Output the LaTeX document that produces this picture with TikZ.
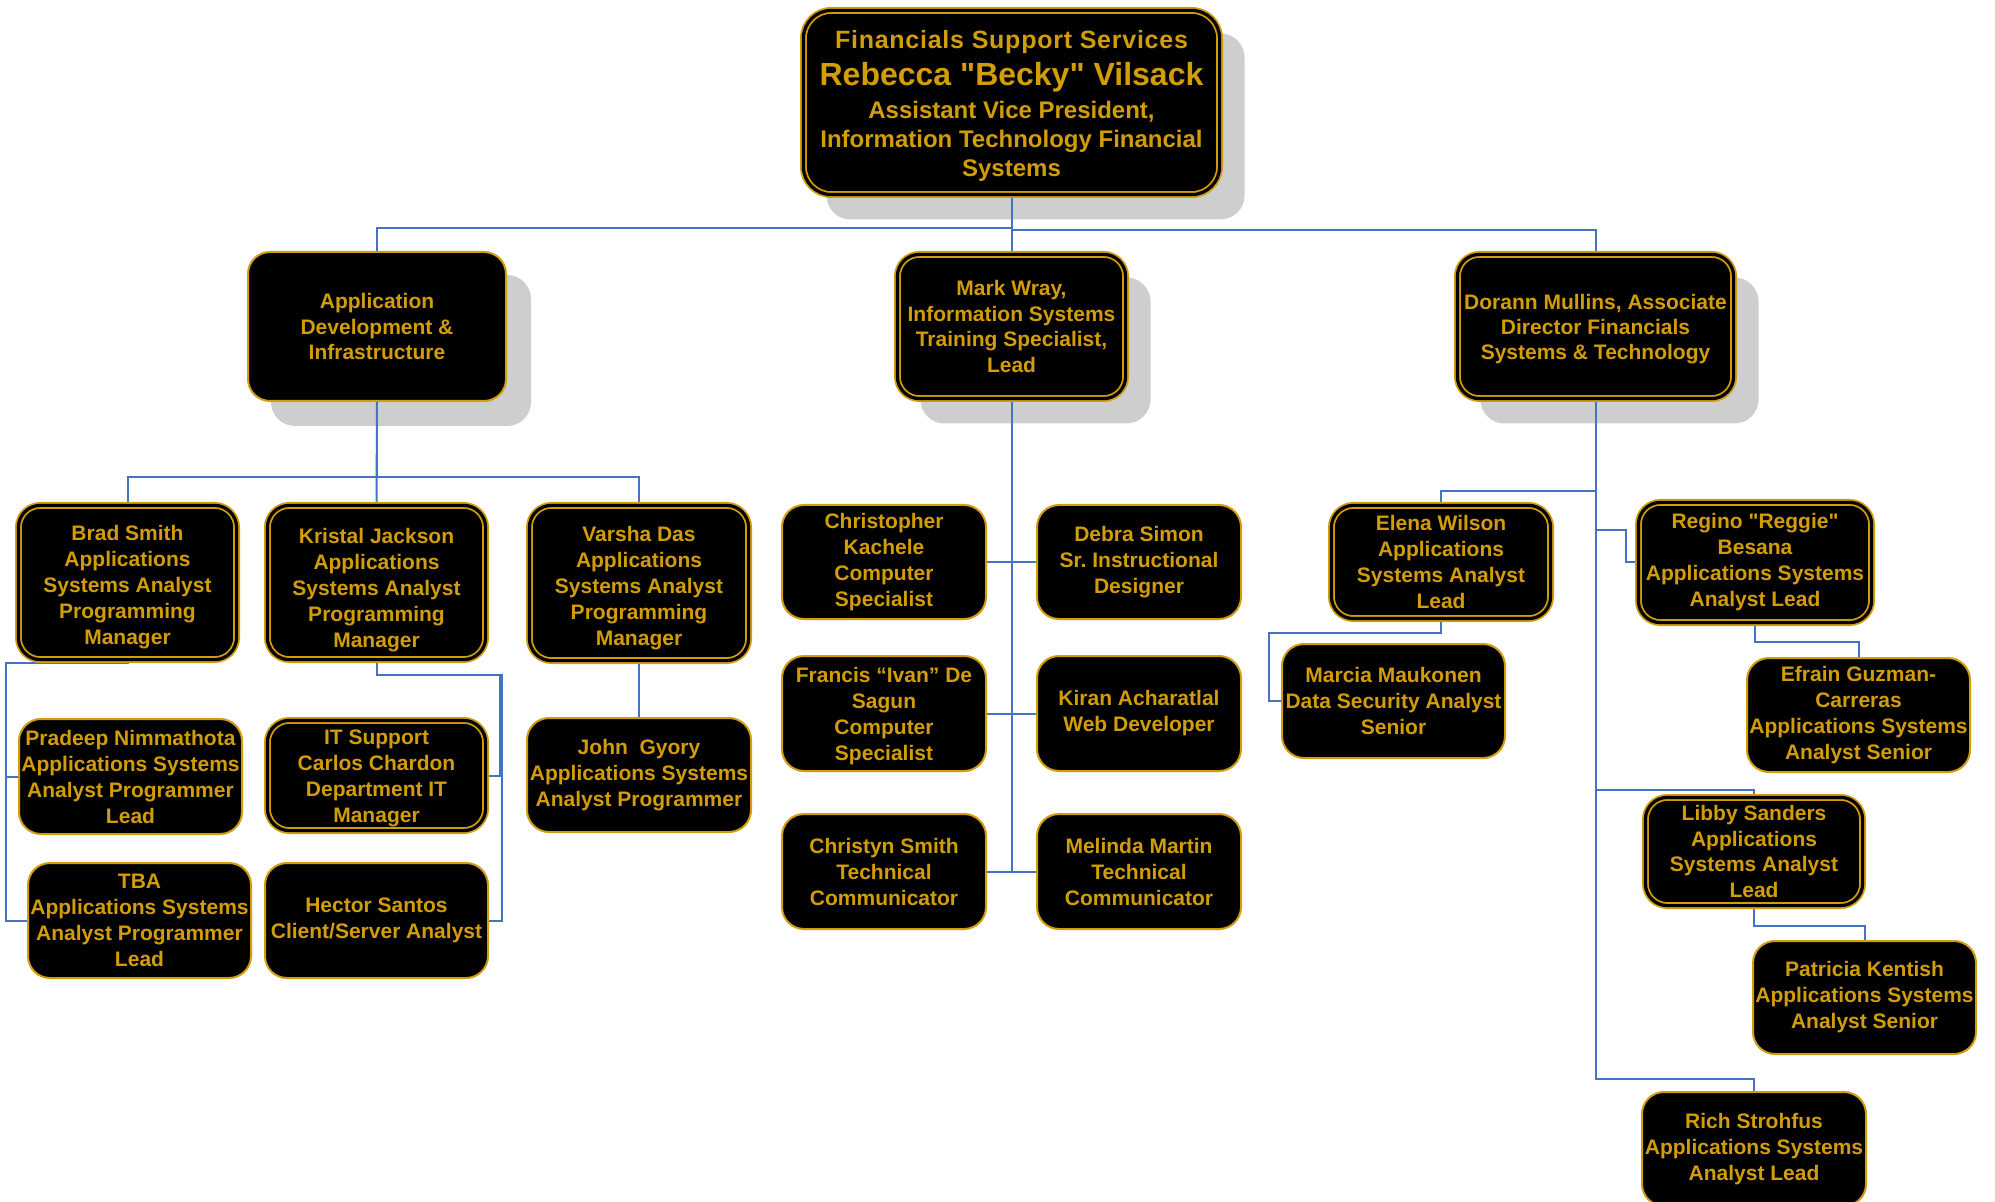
\documentclass[tikz,border=0pt]{standalone}
\usepackage{fontspec}
\setmainfont{Liberation Sans}[Ligatures=TeXOff]
\definecolor{gold}{RGB}{210,157,8}
\definecolor{lineblue}{RGB}{68,114,196}
\definecolor{shadowc}{RGB}{206,206,206}
\pgfdeclarelayer{bg}\pgfdeclarelayer{fg}\pgfsetlayers{bg,main,fg}
\newcommand{\tstrut}[1]{\rule{0pt}{#1}}
\begin{document}
\begin{tikzpicture}[x=0.5pt,y=-0.5pt,
  card/.style={fill=black, draw=gold, line width=1pt, rounded corners=11pt, align=center,
    text=gold, font=\bfseries\fontsize{10.5}{13}\selectfont, inner sep=0pt},
  dcard/.style={card, line width=0.9pt, double=black, double distance=1.6pt},
  tight/.style={font=\bfseries\fontsize{10.5}{12.7}\selectfont},
  sz/.style 2 args={minimum width={#1*0.5pt-1pt}, minimum height={#2*0.5pt-1pt}},
  dsz/.style 2 args={minimum width={#1*0.5pt-3.4pt}, minimum height={#2*0.5pt-3.4pt}},
  conn/.style={draw=lineblue, line width=1pt},
  shadowbox/.style={fill=shadowc, rounded corners=12pt}]
\useasboundingbox (0,0) rectangle (1995,1202);
\begin{pgfonlayer}{fg}
% top level
\node[dcard, dsz={423}{191}, rounded corners=14pt, font=\bfseries\fontsize{12}{14.5}\selectfont] (top) at (1011.5,102.5)
  {{\fontsize{12.5}{14.5}\selectfont\addfontfeature{LetterSpace=3}\tstrut{12.2pt}Financials Support Services}\\[4pt]
   {\fontsize{16}{18}\selectfont Rebecca "Becky" Vilsack}\\[2pt]
   Assistant Vice President,\\ Information Technology Financial\\ Systems};
\node[card, tight, sz={260}{151}] (appdev) at (377,326.5) {Application\\ Development \&\\ Infrastructure};
\node[dcard, tight, dsz={235}{151}] (mark) at (1011.5,326.5) {Mark Wray,\\ Information Systems\\ Training Specialist,\\ Lead};
\node[dcard, tight, dsz={283}{151}] (dorann) at (1595.5,326.5) {\tstrut{10.2pt}Dorann Mullins, Associate\\ Director Financials\\ Systems \& Technology};
% left branch
\node[dcard, dsz={225}{161}] (brad) at (127.5,582.5) {\tstrut{12.7pt}Brad Smith\\ Applications\\ Systems Analyst\\ Programming\\ Manager};
\node[dcard, dsz={225}{161}] (kristal) at (376.5,582.5) {\tstrut{15.5pt}Kristal Jackson\\ Applications\\ Systems Analyst\\ Programming\\ Manager};
\node[dcard, dsz={226}{162}] (varsha) at (639,583) {\tstrut{12.7pt}Varsha Das\\ Applications\\ Systems Analyst\\ Programming\\ Manager};
\node[card, sz={225}{117}] (pradeep) at (130.5,776.5) {Pradeep Nimmathota\\ Applications Systems\\ Analyst Programmer\\ Lead};
\node[dcard, dsz={225}{117}] (it) at (376.5,775.5) {\tstrut{10.2pt}IT Support\\ Carlos Chardon\\ Department IT\\ Manager};
\node[card, sz={225}{117}] (tba) at (139.5,920.5) {TBA\\ Applications Systems\\ Analyst Programmer\\ Lead};
\node[card, sz={225}{117}] (hector) at (376.5,920.5) {Hector Santos\\ Client/Server Analyst};
\node[card, sz={226}{116}] (john) at (639,775) {John\ \ Gyory\\ Applications Systems\\ Analyst Programmer};
% centre branch
\node[card, sz={206}{116}] (chris) at (884,562) {Christopher\\ Kachele\\ Computer\\ Specialist};
\node[card, sz={206}{116}] (debra) at (1139,562) {Debra Simon\\ Sr.\ Instructional\\ Designer};
\node[card, sz={206}{117}] (francis) at (884,713.5) {\tstrut{10.2pt}Francis “Ivan” De\\ Sagun\\ Computer\\ Specialist};
\node[card, sz={206}{117}] (kiran) at (1139,713.5) {Kiran Acharatlal\\ Web Developer};
\node[card, sz={206}{117}] (christyn) at (884,871.5) {Christyn Smith\\ Technical\\ Communicator};
\node[card, sz={206}{117}] (melinda) at (1139,871.5) {Melinda Martin\\ Technical\\ Communicator};
% right branch
\node[dcard, dsz={226}{120}] (elena) at (1441,562) {Elena Wilson\\ Applications\\ Systems Analyst\\ Lead};
\node[card, sz={225}{116}] (marcia) at (1393.5,701) {Marcia Maukonen\\ Data Security Analyst\\ Senior};
\node[dcard, dsz={240}{127}] (regino) at (1755,562.5) {Regino "Reggie"\\ Besana\\ Applications Systems\\ Analyst Lead};
\node[card, sz={225}{116}] (efrain) at (1858.5,715) {Efrain Guzman-\\ Carreras\\ Applications Systems\\ Analyst Senior};
\node[dcard, tight, dsz={224}{115}] (libby) at (1754,851.5) {Libby Sanders\\ Applications\\ Systems Analyst\\ Lead};
\node[card, sz={225}{115}] (patricia) at (1864.5,997.5) {Patricia Kentish\\ Applications Systems\\ Analyst Senior};
\node[card, sz={226}{116}] (rich) at (1754,1149) {Rich Strohfus\\ Applications Systems\\ Analyst Lead};
\end{pgfonlayer}
% background and shadows
\begin{pgfonlayer}{bg}
\fill[white] (0,0) rectangle (1995,1202);
\foreach \n in {top,appdev,mark,dorann}
  \fill[shadowbox] ([shift={(12pt,-12pt)}]\n.south west) rectangle ([shift={(12pt,-12pt)}]\n.north east);
\end{pgfonlayer}
% connectors
\draw[conn] (mark.north) -- (top.south);
\draw[conn] (appdev.north) -- ++(0,-23) -| (top.south);
\draw[conn] (dorann.north) -- ++(0,-23) -| (top.south);
\draw[conn] (kristal.north) -- (appdev.south);
\draw[conn] (brad.north) -- ++(0,-27) -| (appdev.south);
\draw[conn] (varsha.north) -- ++(0,-27) -| (appdev.south);
\draw[conn] (brad.south) -- ++(0,2) -| ([xshift=-6pt]pradeep.west) -- (pradeep.west);
\draw[conn] (brad.south) -- ++(0,2) -| ([xshift=-10.5pt]tba.west) -- (tba.west);
\draw[conn] (kristal.south) -- ++(0,14) -| ([xshift=6.5pt]it.east) -- (it.east);
\draw[conn] (kristal.south) -- ++(0,14) -| ([xshift=6.5pt]hector.east) -- (hector.east);
\draw[conn] (varsha.south) -- (john.north);
\draw[conn] (mark.south) -- (mark.south |- christyn.east);
\draw[conn] (chris.east) -- (debra.west);
\draw[conn] (francis.east) -- (kiran.west);
\draw[conn] (christyn.east) -- (melinda.west);
\draw[conn] (elena.north) -- ++(0,-13) -| (dorann.south);
\draw[conn] (regino.west) -- ++(-12,0) -- ++(0,-32) -| (dorann.south);
\draw[conn] (libby.north) -- ++(0,-7) -| (dorann.south);
\draw[conn] (rich.north) -- ++(0,-12) -| (dorann.south);
\draw[conn] (elena.south) -- ++(0,13) -| ([xshift=-6pt]marcia.west) -- (marcia.west);
\draw[conn] (regino.south) -- ++(0,18) -| (efrain.north);
\draw[conn] (libby.south) -- ++(0,19) -| (patricia.north);
\end{tikzpicture}
\end{document}
